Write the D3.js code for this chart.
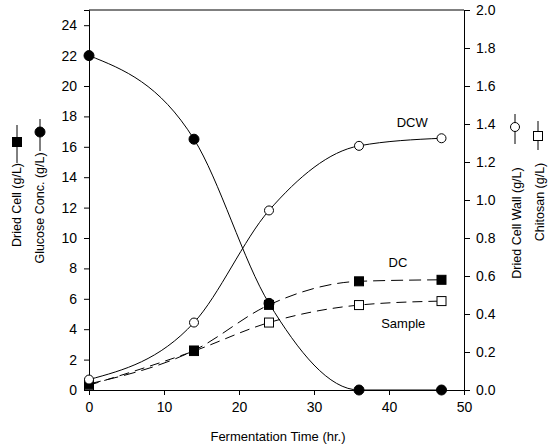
<!DOCTYPE html>
<html>
<head>
<meta charset="utf-8">
<script src="https://cdn.jsdelivr.net/npm/d3@7"></script>
<style>
  body { margin: 0; background: #fff; }
  svg text { font-family: "Liberation Sans", Arial, sans-serif; fill: #000; }
</style>
</head>
<body>
<svg id="chart"></svg>
<script>
// fermentation data
var time = [0, 14, 24, 36, 47];
var glucose = [22, 16.5, 5.7, 0, 0];          // g/L, left axis
var driedCell = [0.4, 2.6, 5.6, 7.15, 7.25];  // g/L, left axis
var cellWall = [0.055, 0.355, 0.945, 1.285, 1.325]; // g/L, right axis
var chitosan = [0.025, 0.205, 0.355, 0.447, 0.468]; // g/L, right axis

var xTicks = [0, 10, 20, 30, 40, 50];
var yLeftTicks = d3.range(0, 25, 2);
var yRightTicks = d3.range(0, 2.01, 0.2);

var W = 557, H = 448;
var margin = { top: 10, right: 93, bottom: 58, left: 89 },
	width = W - margin.left - margin.right,
	height = H - margin.top - margin.bottom;

var svg = d3.select('#chart')
	.attr('width', W)
	.attr('height', H);
var g = svg.append('g')
	.attr('transform', 'translate(' + margin.left + ',' + margin.top + ')');

var x = d3.scaleLinear().domain([0, 50]).range([0, width]);
var yL = d3.scaleLinear().domain([0, 25]).range([height, 0]);
var yR = d3.scaleLinear().domain([0, 2]).range([height, 0]);

/* axes */
var xAxis = d3.axisBottom(x).tickValues(xTicks).tickSize(5).tickPadding(7);
var yAxisL = d3.axisLeft(yL).tickValues(yLeftTicks).tickSize(5).tickPadding(7);
var yAxisR = d3.axisRight(yR).tickValues(yRightTicks).tickSize(6).tickPadding(6)
	.tickFormat(d3.format('.1f'));

g.append('g').attr('transform', 'translate(0,' + height + ')').call(xAxis);
g.append('g').call(yAxisL);
g.append('g').attr('transform', 'translate(' + width + ',0)').call(yAxisR);

g.selectAll('.domain').attr('stroke', '#000');
g.selectAll('.tick line').attr('stroke', '#000');
g.selectAll('.tick text').style('font-size', '14px');

// top frame
g.append('line')
	.attr('x1', 0).attr('x2', width)
	.attr('y1', 0).attr('y2', 0)
	.attr('stroke', '#000');

/* series */
var series = [
	{ vals: glucose, y: yL, dash: null, shape: 'circle', fill: '#000' },
	{ vals: cellWall, y: yR, dash: null, shape: 'circle', fill: '#fff' },
	{ vals: driedCell, y: yL, dash: '12,6', shape: 'square', fill: '#000' },
	{ vals: chitosan, y: yR, dash: '10,6', shape: 'square', fill: '#fff' }
];

series.forEach(function(s) {
	var line = d3.line()
		.x(function(d, i) { return x(time[i]); })
		.y(function(d) { return s.y(d); })
		.curve(d3.curveMonotoneX);
	g.append('path')
		.datum(s.vals)
		.attr('d', line)
		.attr('fill', 'none')
		.attr('stroke', '#000')
		.attr('stroke-width', 1)
		.attr('stroke-dasharray', s.dash);
});

var drawMarker = function(sel, shape, fill, cx, cy) {
	if (shape == 'circle') {
		sel.append('circle')
			.attr('cx', cx).attr('cy', cy)
			.attr('r', fill == '#000' ? 5 : 4.5)
			.attr('fill', fill).attr('stroke', '#000');
	} else {
		sel.append('rect')
			.attr('x', cx - 4.5).attr('y', cy - 4.5)
			.attr('width', 9).attr('height', 9)
			.attr('fill', fill).attr('stroke', '#000');
	}
};

series.slice().reverse().forEach(function(s) {
	s.vals.forEach(function(d, i) {
		drawMarker(g, s.shape, s.fill, x(time[i]), s.y(d));
	});
});

/* curve labels */
var labels = [
	{ text: 'DCW', t: 43.1, v: 17.6 },
	{ text: 'DC', t: 41.2, v: 8.4 },
	{ text: 'Sample', t: 41.9, v: 4.35 }
];
g.selectAll('.lbl')
	.data(labels)
	.enter().append('text')
	.attr('x', function(d) { return x(d.t); })
	.attr('y', function(d) { return yL(d.v); })
	.attr('dy', '0.35em')
	.attr('text-anchor', 'middle')
	.style('font-size', '13px')
	.text(function(d) { return d.text; });

/* axis titles with legend keys */
svg.append('text')
	.attr('x', 278).attr('y', 441)
	.attr('text-anchor', 'middle')
	.style('font-size', '13px')
	.text('Fermentation Time (hr.)');

var titles = [
	{ text: 'Dried Cell (g/L)', x: 17, y: 205, kx: 17, ky: 142, k0: 125, k1: 163, shape: 'square', fill: '#000' },
	{ text: 'Glucose Conc. (g/L)', x: 40, y: 208, kx: 40, ky: 132, k0: 119, k1: 151, shape: 'circle', fill: '#000' },
	{ text: 'Dried Cell Wall (g/L)', x: 517, y: 223, kx: 515, ky: 127, k0: 114, k1: 144, shape: 'circle', fill: '#fff' },
	{ text: 'Chitosan (g/L)', x: 540, y: 202, kx: 538, ky: 136, k0: 121, k1: 150, shape: 'square', fill: '#fff' }
];

titles.forEach(function(t) {
	svg.append('text')
		.attr('transform', 'translate(' + t.x + ',' + t.y + ') rotate(-90)')
		.attr('text-anchor', 'middle')
		.attr('dy', '0.35em')
		.style('font-size', '12.5px')
		.text(t.text);
	svg.append('line')
		.attr('x1', t.kx).attr('x2', t.kx)
		.attr('y1', t.k0).attr('y2', t.k1)
		.attr('stroke', '#000');
	drawMarker(svg, t.shape, t.fill, t.kx, t.ky);
});
</script>
</body>
</html>
